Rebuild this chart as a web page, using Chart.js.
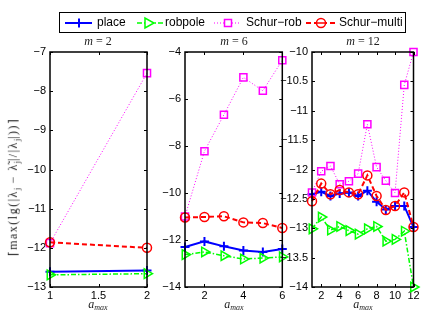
<!DOCTYPE html>
<html><head><meta charset="utf-8">
<script src="https://cdn.jsdelivr.net/npm/chart.js@4/dist/chart.umd.min.js"></script>
<style>
html,body{margin:0;padding:0;background:#fff;}
#wrap{position:relative;width:422px;height:314px;overflow:hidden;font-family:"Liberation Sans",Arial,sans-serif;}
canvas{position:absolute;top:0;}
.ptitle{position:absolute;top:34px;height:14px;line-height:14px;font-family:"Liberation Serif","DejaVu Serif",serif;font-size:12px;transform:translateX(-50%);white-space:nowrap;color:#222;}
.xtitle{position:absolute;top:297px;height:14px;line-height:14px;font-family:"Liberation Serif","DejaVu Serif",serif;font-size:12px;font-style:italic;transform:translateX(-50%);white-space:nowrap;color:#222;}
.xtitle sub{font-size:8px;vertical-align:-2px;}
#ytitle{position:absolute;left:14px;top:187px;transform:translate(-50%,-50%) rotate(-90deg);white-space:nowrap;font-family:"Liberation Serif","DejaVu Serif",serif;font-size:12px;letter-spacing:1.5px;color:#222;}
#ytitle sub{font-size:8px;letter-spacing:0;}
#legend{position:absolute;left:59px;top:12px;width:345px;height:19px;border:1px solid #000;background:#fff;}
.lt{position:absolute;top:0;height:19px;line-height:19px;font-size:12px;color:#000;white-space:nowrap;}
#lsvg{position:absolute;left:0;top:0;}
</style></head>
<body>
<div id="wrap">
<canvas id="c1" width="160" height="314" style="left:0px"></canvas>
<canvas id="c2" width="140" height="314" style="left:150px"></canvas>
<canvas id="c3" width="147" height="314" style="left:275px"></canvas>
<div class="ptitle" style="left:98px"><i>m</i> = 2</div>
<div class="ptitle" style="left:234px"><i>m</i> = 6</div>
<div class="ptitle" style="left:363px"><i>m</i> = 12</div>
<div class="xtitle" style="left:98px">a<sub>max</sub></div>
<div class="xtitle" style="left:234px">a<sub>max</sub></div>
<div class="xtitle" style="left:363px">a<sub>max</sub></div>
<div id="ytitle">⌈max(lg(|λ<sub>j</sub> − λ̃<sub>j</sub>|/|λ<sub>j</sub>|))⌉</div>
<div id="legend">
<svg id="lsvg" width="345" height="19">
 <line x1="5" y1="10" x2="32" y2="10" stroke="#0000ff" stroke-width="2"/>
 <line x1="14.5" y1="10" x2="23.5" y2="10" stroke="#0000ff" stroke-width="2"/>
 <line x1="19" y1="5.5" x2="19" y2="14.5" stroke="#0000ff" stroke-width="2"/>
 <line x1="77" y1="10" x2="104" y2="10" stroke="#00ff00" stroke-width="1.5" stroke-dasharray="5 2 1.5 2"/>
 <polygon points="85,5 85,15 94,10" fill="#fff" stroke="#00ff00" stroke-width="1.5"/>
 <line x1="154" y1="10" x2="181" y2="10" stroke="#ff00ff" stroke-width="1" stroke-dasharray="1 2"/>
 <rect x="164.5" y="6.5" width="7" height="7" fill="#fff" stroke="#ff00ff" stroke-width="1.5"/>
 <line x1="246" y1="10" x2="276" y2="10" stroke="#ff0000" stroke-width="2" stroke-dasharray="5 3"/>
 <circle cx="261" cy="10" r="4.5" fill="#fff" stroke="#ff0000" stroke-width="1.5"/>
 <line x1="257" y1="10" x2="265" y2="10" stroke="#ff0000" stroke-width="1.5"/>
</svg>
<span class="lt" style="left:37px">place</span>
<span class="lt" style="left:105px">robpole</span>
<span class="lt" style="left:186px">Schur−rob</span>
<span class="lt" style="left:279px">Schur−multi</span>
</div>
</div>
<script>
// ---- data ----
const aMax2 = [1, 2];
const place2 = [-12.61, -12.58];
const robpole2 = [-12.69, -12.66];
const schurRob2 = [-11.88, -7.54];
const schurMulti2 = [-11.86, -12.0];

const aMax6 = [1, 2, 3, 4, 5, 6];
const place6 = [-12.30, -12.06, -12.27, -12.45, -12.51, -12.38];
const robpole6 = [-12.62, -12.51, -12.67, -12.81, -12.77, -12.72];
const schurRob6 = [-11.00, -8.22, -6.67, -5.08, -5.65, -4.35];
const schurMulti6 = [-11.04, -11.02, -10.99, -11.25, -11.28, -11.49];

const aMax12 = [1, 2, 3, 4, 5, 6, 7, 8, 9, 10, 11, 12];
const place12 = [-12.42, -12.38, -12.45, -12.41, -12.39, -12.45, -12.36, -12.55, -12.68, -12.62, -12.62, -12.98];
const robpole12 = [-13.01, -12.81, -13.03, -12.97, -13.04, -13.10, -13.01, -12.97, -13.22, -13.19, -13.05, -14.0];
const schurRob12 = [-12.39, -12.03, -11.94, -12.25, -12.20, -12.07, -11.23, -11.96, -12.19, -12.40, -10.56, -10.0];
const schurMulti12 = [-12.54, -12.24, -12.42, -12.35, -12.39, -12.42, -12.10, -12.45, -12.69, -12.62, -12.39, -12.98];

const xTicks2 = [1, 1.5, 2];
const yTicks2 = [-13, -12, -11, -10, -9, -8, -7];
const xTicks6 = [2, 4, 6];
const yTicks6 = [-14, -12, -10, -8, -6, -4];
const xTicks12 = [2, 4, 6, 8, 10, 12];
const yTicks12 = [-14, -13.5, -13, -12.5, -12, -11.5, -11, -10.5, -10];

const seriesNames = ['place', 'robpole', 'Schur−rob', 'Schur−multi'];

// ---- styles ----
const styles = [
  {borderColor:'#0000ff', borderWidth:2, pointStyle:'cross', pointRadius:4.5, pointBorderWidth:2, borderDash:[]},
  {borderColor:'#00ff00', borderWidth:1.5, pointStyle:'triangle', pointRotation:90, pointRadius:5.5, pointBorderWidth:1.5, borderDash:[5,2,1.5,2]},
  {borderColor:'#ff00ff', borderWidth:1, pointStyle:'rect', pointRadius:5, pointBorderWidth:1.5, borderDash:[1,2]},
  {borderColor:'#ff0000', borderWidth:2, pointStyle:'circle', pointRadius:4.5, pointBorderWidth:1.5, borderDash:[5,3]}
];

const frame = {
  id: 'frame',
  afterDraw(chart) {
    const {ctx, chartArea: a, scales} = chart;
    const x = scales.x, y = scales.y;
    ctx.save();
    ctx.strokeStyle = '#000';
    ctx.lineWidth = 1.5;
    ctx.strokeRect(a.left, a.top, a.right - a.left, a.bottom - a.top);
    ctx.lineWidth = 1;
    ctx.beginPath();
    x.ticks.forEach(t => {
      const px = Math.round(x.getPixelForValue(t.value)) + 0.5;
      ctx.moveTo(px, a.bottom); ctx.lineTo(px, a.bottom - 3);
      ctx.moveTo(px, a.top); ctx.lineTo(px, a.top + 3);
    });
    y.ticks.forEach(t => {
      const py = Math.round(y.getPixelForValue(t.value)) + 0.5;
      ctx.moveTo(a.left, py); ctx.lineTo(a.left + 3, py);
      ctx.moveTo(a.right, py); ctx.lineTo(a.right - 3, py);
    });
    ctx.stroke();
    ctx.restore();
  }
};

const fmt = v => String(v).replace('-', '−');

function makeChart(id, xs, seriesList, xTicks, xMin, xMax, yTicks, yAxisW, padRight) {
  const datasets = seriesList.map((vals, i) => Object.assign({
    label: seriesNames[i],
    data: xs.map((xv, k) => ({x: xv, y: vals[k]})),
    pointBackgroundColor: 'rgba(0,0,0,0)',
    backgroundColor: 'rgba(0,0,0,0)',
    fill: false,
    tension: 0,
    clip: false,
    order: 4 - i
  }, styles[i], {pointBorderColor: styles[i].borderColor}));
  return new Chart(document.getElementById(id), {
    type: 'line',
    data: {datasets},
    plugins: [frame],
    options: {
      responsive: false,
      animation: false,
      devicePixelRatio: 1,
      layout: {padding: {top: 52, right: padRight, bottom: 0, left: 0}},
      plugins: {legend: {display: false}, tooltip: {enabled: false}, title: {display: false}},
      scales: {
        x: {
          type: 'linear', min: xMin, max: xMax,
          grid: {display: false, drawTicks: false},
          border: {display: false},
          afterBuildTicks: s => { s.ticks = xTicks.map(v => ({value: v})); },
          afterFit: s => { s.height = 27; },
          ticks: {padding: 2, color: '#000', font: {family: '"Liberation Sans", Arial, sans-serif', size: 11}, callback: v => fmt(v), maxRotation: 0, autoSkip: false}
        },
        y: {
          type: 'linear', min: yTicks[0], max: yTicks[yTicks.length - 1],
          grid: {display: false, drawTicks: false},
          border: {display: false},
          afterBuildTicks: s => { s.ticks = yTicks.map(v => ({value: v})); },
          afterFit: s => { s.width = yAxisW; },
          ticks: {padding: 4, color: '#000', font: {family: '"Liberation Sans", Arial, sans-serif', size: 11}, callback: v => fmt(v), autoSkip: false}
        }
      }
    }
  });
}

makeChart('c1', aMax2, [place2, robpole2, schurRob2, schurMulti2], xTicks2, 1, 2, yTicks2, 50, 13);
makeChart('c2', aMax6, [place6, robpole6, schurRob6, schurMulti6], xTicks6, 1, 6, yTicks6, 35, 7.7);
makeChart('c3', aMax12, [place12, robpole12, schurRob12, schurMulti12], xTicks12, 1, 12, yTicks12, 37, 8.5);
</script>
</body></html>
